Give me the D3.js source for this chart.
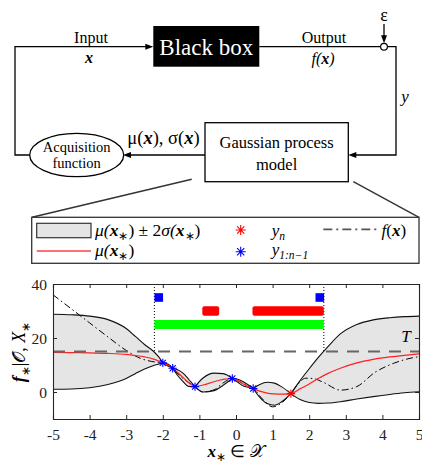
<!DOCTYPE html>
<html><head><meta charset="utf-8">
<script src="https://cdn.jsdelivr.net/npm/d3@7"></script>
<style>
body{margin:0;background:#fff}
svg{display:block}
text{font-family:"Liberation Serif","Times New Roman",serif;fill:#000}
</style>
</head><body>
<svg id="c" width="422" height="463"></svg>
<script>
// ---------------- data ----------------
const xGrid   = [-5,-4.5,-4,-3.5,-3,-2.75,-2.5,-2.25,-2.1,-2.0,-1.85,-1.73,-1.6,-1.45,-1.3,-1.12,-0.9,-0.6,-0.35,-0.1,0.05,0.2,0.35,0.47,0.65,0.85,1.05,1.25,1.5,1.75,2.0,2.25,2.5,2.85,3.3,3.75,4.2,4.6,5];
const meanVals  = [14.7,14.6,14.5,14.3,13.9,13.5,13.0,12.2,11.4,10.8,9.9,8.8,7.3,5.4,3.5,2.0,2.6,3.8,4.7,5.0,4.2,3.0,1.9,1.3,0.3,-0.4,-0.7,-0.8,-0.6,1.2,3.0,5.0,6.8,8.8,10.8,12.1,13.0,13.6,14.1];
const upperVals = [28.8,28.6,28.1,26.8,23.5,20.6,17.6,15.0,12.8,10.8,10.3,8.8,8.2,7.0,4.8,2.0,5.2,7.0,6.8,5.0,4.7,3.8,2.5,1.3,2.8,3.6,3.3,1.9,-0.6,4.2,8.6,12.8,16.6,21.5,25.0,26.7,27.5,27.9,28.1];
const lowerVals = [1.0,1.1,1.6,2.8,5.0,6.8,8.5,9.8,10.4,10.8,9.5,8.8,6.2,3.9,2.1,2.0,0.0,0.5,2.5,5.0,3.6,2.2,1.7,1.3,-2.0,-4.3,-4.9,-3.6,-0.6,-2.8,-3.9,-4.2,-4.1,-3.6,-2.6,-1.7,-0.9,-0.3,0.1];

const fX    = [-5,-4.5,-4,-3.5,-3,-2.6,-2.3,-2.0,-1.75,-1.45,-1.12,-0.9,-0.6,-0.35,-0.1,0.2,0.47,0.75,1.0,1.25,1.5,1.7,1.9,2.1,2.4,2.85,3.3,3.8,4.3,4.7,5];
const fVals = [36,30.8,25.6,20.4,15.4,12.4,11.3,10.8,8.8,5.0,2.0,0.0,0.8,3.4,5.0,3.0,1.3,-3.0,-5.5,-4.0,-0.6,3.0,5.1,5.0,3.5,0.7,2.0,7.3,10.6,12.3,13.1];

const obsX = [-2.0,-1.73,-1.12,-0.1,0.47];
const obsY = [10.8,8.8,2.0,5.0,1.3];
const newX = [1.5];
const newY = [-0.6];

const threshold = 15;
const boundX = [-2.23, 2.4];          // dotted vertical lines
const squareX = [-2.11, 2.29];        // blue squares
const squareY = 35;
const greenBar = [[-2.23, 2.4]];
const greenY = 25;
const redBars = [[-0.92,-0.46],[0.45,2.4]];
const redY = 30;

const xTicks = [-5,-4,-3,-2,-1,0,1,2,3,4,5];
const yTicks = [0,20,40];

// ---------------- drawing ----------------
const svg = d3.select('#c');

function arrowHead(g, x, y, dir){
  const L = 8, W = 3;
  let p;
  if(dir==='right') p = `M${x},${y}L${x-L},${y-W}L${x-L},${y+W}Z`;
  if(dir==='left')  p = `M${x},${y}L${x+L},${y-W}L${x+L},${y+W}Z`;
  if(dir==='down')  p = `M${x},${y}L${x-W},${y-L}L${x+W},${y-L}Z`;
  g.append('path').attr('d',p).attr('fill','#000');
}
function richText(g, x, y, segs, size, anchor){
  const t = g.append('text').attr('x',x).attr('y',y).attr('font-size',size).attr('text-anchor',anchor||'start');
  segs.forEach(s=>{
    const ts = t.append('tspan').text(s.t);
    if(s.i) ts.attr('font-style','italic');
    if(s.b) ts.attr('font-weight','bold');
    if(s.sub){ ts.attr('font-size', size*0.68).attr('dy', size*0.25); }
    if(s.up){ ts.attr('dy', -size*0.25); }
  });
  return t;
}

// ---- diagram ----
const dg = svg.append('g').attr('stroke-linecap','butt');
const ln = (d)=>dg.append('path').attr('d',d).attr('fill','none').attr('stroke','#000').attr('stroke-width',1.3);

ln('M29.5,155H15V46.7H146');
arrowHead(dg,153.3,46.7,'right');
dg.append('rect').attr('x',153.3).attr('y',26).attr('width',106).attr('height',40.7).attr('fill','#000');
dg.append('text').attr('x',206.3).attr('y',54.5).attr('text-anchor','middle').attr('font-size',23).style('fill','#fff').text('Black box');
ln('M259.3,46.7H380.6');
dg.append('circle').attr('cx',384).attr('cy',46.7).attr('r',3.4).attr('fill','#fff').attr('stroke','#000').attr('stroke-width',1.2);
ln('M387.4,46.7H396V155H355');
arrowHead(dg,348.3,155,'left');
ln('M384,24V36');
arrowHead(dg,384,43.3,'down');
dg.append('text').attr('x',384).attr('y',20.5).attr('text-anchor','middle').attr('font-size',18).text('ε');

dg.append('text').attr('x',91).attr('y',43).attr('text-anchor','middle').attr('font-size',16).text('Input');
richText(dg,89,63,[{t:'x',i:1,b:1}],16,'middle');
dg.append('text').attr('x',324).attr('y',43).attr('text-anchor','middle').attr('font-size',16).text('Output');
richText(dg,323,64,[{t:'f',i:1},{t:'(',i:1},{t:'x',i:1,b:1},{t:')',i:1}],16,'middle');
richText(dg,405,102,[{t:'y',i:1}],17,'middle');

dg.append('rect').attr('x',205).attr('y',122.7).attr('width',143.3).attr('height',59).attr('fill','#fff').attr('stroke','#000').attr('stroke-width',1.3);
dg.append('text').attr('x',276.6).attr('y',147.5).attr('text-anchor','middle').attr('font-size',16.5).text('Gaussian process');
dg.append('text').attr('x',276.6).attr('y',170).attr('text-anchor','middle').attr('font-size',16.5).text('model');
ln('M205,155H130');
arrowHead(dg,123,155,'left');
richText(dg,163.5,143.5,[{t:'μ('},{t:'x',i:1,b:1},{t:'), σ('},{t:'x',i:1,b:1},{t:')'}],18.5,'middle');
dg.append('ellipse').attr('cx',76.7).attr('cy',155).attr('rx',47).attr('ry',21.7).attr('fill','#fff').attr('stroke','#000').attr('stroke-width',1.3);
dg.append('text').attr('x',76.7).attr('y',152).attr('text-anchor','middle').attr('font-size',14.5).text('Acquisition');
dg.append('text').attr('x',76.7).attr('y',168).attr('text-anchor','middle').attr('font-size',14.5).text('function');

// zoom lines
dg.append('path').attr('d','M191.7,179.3L32,217.3M353.3,181.7L419,217.3').attr('stroke','#333').attr('stroke-width',1.4).attr('fill','none');

// ---- legend ----
const lg = svg.append('g');
lg.append('rect').attr('x',31.7).attr('y',217.3).attr('width',387.3).attr('height',46).attr('fill','#fff').attr('stroke','#333').attr('stroke-width',1.3);
lg.append('rect').attr('x',36.7).attr('y',223.3).attr('width',54.3).attr('height',14.4).attr('fill','#e5e5e5').attr('stroke','#333').attr('stroke-width',1.2);
lg.append('line').attr('x1',36.7).attr('x2',91).attr('y1',251).attr('y2',251).attr('stroke','#ff4040').attr('stroke-width',1.4);
richText(lg,95,236,[{t:'μ(',i:1},{t:'x',i:1,b:1},{t:'∗',sub:1},{t:') ± 2',up:1},{t:'σ(',i:1},{t:'x',i:1,b:1},{t:'∗',sub:1},{t:')',up:1}],17.5);
richText(lg,95,256,[{t:'μ(',i:1},{t:'x',i:1,b:1},{t:'∗',sub:1},{t:')',up:1}],17.5);
richText(lg,271.7,236,[{t:'y',i:1},{t:'n',i:1,sub:1}],17);
richText(lg,271.7,255,[{t:'y',i:1},{t:'1:n−1',i:1,sub:1}],17);
lg.append('line').attr('x1',323.3).attr('x2',378.3).attr('y1',229.3).attr('y2',229.3).attr('stroke','#555').attr('stroke-width',1.8).attr('stroke-dasharray','9,4,2,4');
richText(lg,381.5,236,[{t:'f',i:1},{t:'('},{t:'x',i:1,b:1},{t:')'}],17);

function star(g, cx, cy, r, color, sw){
  const a = r*0.72;
  const p = `M${cx-r},${cy}H${cx+r}M${cx},${cy-r}V${cy+r}M${cx-a},${cy-a}L${cx+a},${cy+a}M${cx-a},${cy+a}L${cx+a},${cy-a}`;
  g.append('path').attr('d',p).attr('stroke',color).attr('stroke-width',sw).attr('fill','none');
}
star(lg,240.7,230,5,'#ff0000',1.1);
star(lg,240.7,251.7,5,'#0000ff',1.1);

// ---- plot ----
const x = d3.scaleLinear().domain([-5,5]).range([53,419]);
const y = d3.scaleLinear().domain([-10,40]).range([419,284]);
const pg = svg.append('g');
svg.append('clipPath').attr('id','clip').append('rect').attr('x',53).attr('y',284).attr('width',366).attr('height',135);
const pc = pg.append('g').attr('clip-path','url(#clip)');

const pts = xGrid.map((v,i)=>({x:v,m:meanVals[i],u:upperVals[i],l:lowerVals[i]}));
const knots = obsX.concat(newX);
let br = [0, pts.length-1];
pts.forEach((p,i)=>{ if(knots.some(k=>Math.abs(k-p.x)<1e-9)) br.push(i); });
br = Array.from(new Set(br)).sort((a,b)=>a-b);
const segs = [];
for(let k=0;k<br.length-1;k++) segs.push(pts.slice(br[k],br[k+1]+1));

const area = d3.area().x(d=>x(d.x)).y0(d=>y(d.l)).y1(d=>y(d.u)).curve(d3.curveMonotoneX);
const lineU = d3.line().x(d=>x(d.x)).y(d=>y(d.u)).curve(d3.curveMonotoneX);
const lineL = d3.line().x(d=>x(d.x)).y(d=>y(d.l)).curve(d3.curveMonotoneX);
segs.forEach(s=>pc.append('path').attr('d',area(s)).attr('fill','#e5e5e5').attr('stroke','none'));

// f(x)
const fLine = d3.line().x((d,i)=>x(fX[i])).y(d=>y(d)).curve(d3.curveMonotoneX);
pc.append('path').attr('d',fLine(fVals)).attr('fill','none').attr('stroke','#000').attr('stroke-width',1).attr('stroke-dasharray','7,3,1.5,3');

// band edges
segs.forEach(s=>{
  pc.append('path').attr('d',lineU(s)).attr('fill','none').attr('stroke','#111').attr('stroke-width',1.1);
  pc.append('path').attr('d',lineL(s)).attr('fill','none').attr('stroke','#111').attr('stroke-width',1.1);
});
// mean
const lineM = d3.line().x(d=>x(d.x)).y(d=>y(d.m)).curve(d3.curveMonotoneX);
pc.append('path').attr('d',lineM(pts)).attr('fill','none').attr('stroke','#ff2020').attr('stroke-width',1.2);

// threshold
pc.append('line').attr('x1',x(-5)).attr('x2',x(5)).attr('y1',y(threshold)).attr('y2',y(threshold))
  .attr('stroke','#666').attr('stroke-width',2).attr('stroke-dasharray','12,9');

// dotted verticals
boundX.forEach(b=>pc.append('line').attr('x1',x(b)).attr('x2',x(b)).attr('y1',y(40)).attr('y2',y(threshold))
  .attr('stroke','#000').attr('stroke-width',1).attr('stroke-dasharray','1,2'));

// bars
greenBar.forEach(b=>pc.append('rect').attr('x',x(b[0])).attr('width',x(b[1])-x(b[0])).attr('y',y(greenY)-4.5).attr('height',9).attr('fill','#00ff00'));
redBars.forEach(b=>pc.append('rect').attr('x',x(b[0])).attr('width',x(b[1])-x(b[0])).attr('y',y(redY)-4.7).attr('height',9.4).attr('rx',2).attr('fill','#ff0000'));
squareX.forEach(s=>pc.append('rect').attr('x',x(s)-4.3).attr('y',y(squareY)-4.3).attr('width',8.6).attr('height',8.6).attr('fill','#0000ff'));

// observations
obsX.forEach((v,i)=>star(pc,x(v),y(obsY[i]),4.2,'#0000ff',1.1));
newX.forEach((v,i)=>star(pc,x(v),y(newY[i]),4.2,'#ff0000',1.1));

// axes
const fmt = d=>String(d);
const axB = pg.append('g').attr('transform','translate(0,419)').call(d3.axisBottom(x).tickValues(xTicks).tickFormat(fmt).tickSize(-4).tickPadding(10));
const axT = pg.append('g').attr('transform','translate(0,284)').call(d3.axisTop(x).tickValues(xTicks).tickFormat('').tickSize(-4));
const axL = pg.append('g').attr('transform','translate(53,0)').call(d3.axisLeft(y).tickValues(yTicks).tickFormat(fmt).tickSize(-4).tickPadding(6));
const axR = pg.append('g').attr('transform','translate(419,0)').call(d3.axisRight(y).tickValues(yTicks).tickFormat('').tickSize(-4));
[axB,axT,axL,axR].forEach(a=>{
  a.selectAll('path.domain').attr('stroke','#262626').attr('stroke-width',1.1);
  a.selectAll('.tick line').attr('stroke','#262626');
  a.selectAll('text').attr('font-family','"Liberation Serif",serif').attr('font-size',15.5).style('fill','#222');
});
axL.selectAll('text').attr('dy','0.35em');

// T label
richText(pg,406,342,[{t:'T',i:1}],17,'middle');

// axis labels
richText(pg,236,457,[{t:'x',i:1,b:1},{t:'∗',sub:1},{t:' ∈ ',up:1},{t:'𝒳'}],17,'middle');
const yl = richText(pg,0,0,[{t:'f',i:1,b:1},{t:'∗',sub:1},{t:'|𝒪, ',up:1},{t:'X',i:1},{t:'∗',sub:1}],18,'middle');
yl.attr('transform','translate(25,352) rotate(-90)');
</script>
</body></html>
